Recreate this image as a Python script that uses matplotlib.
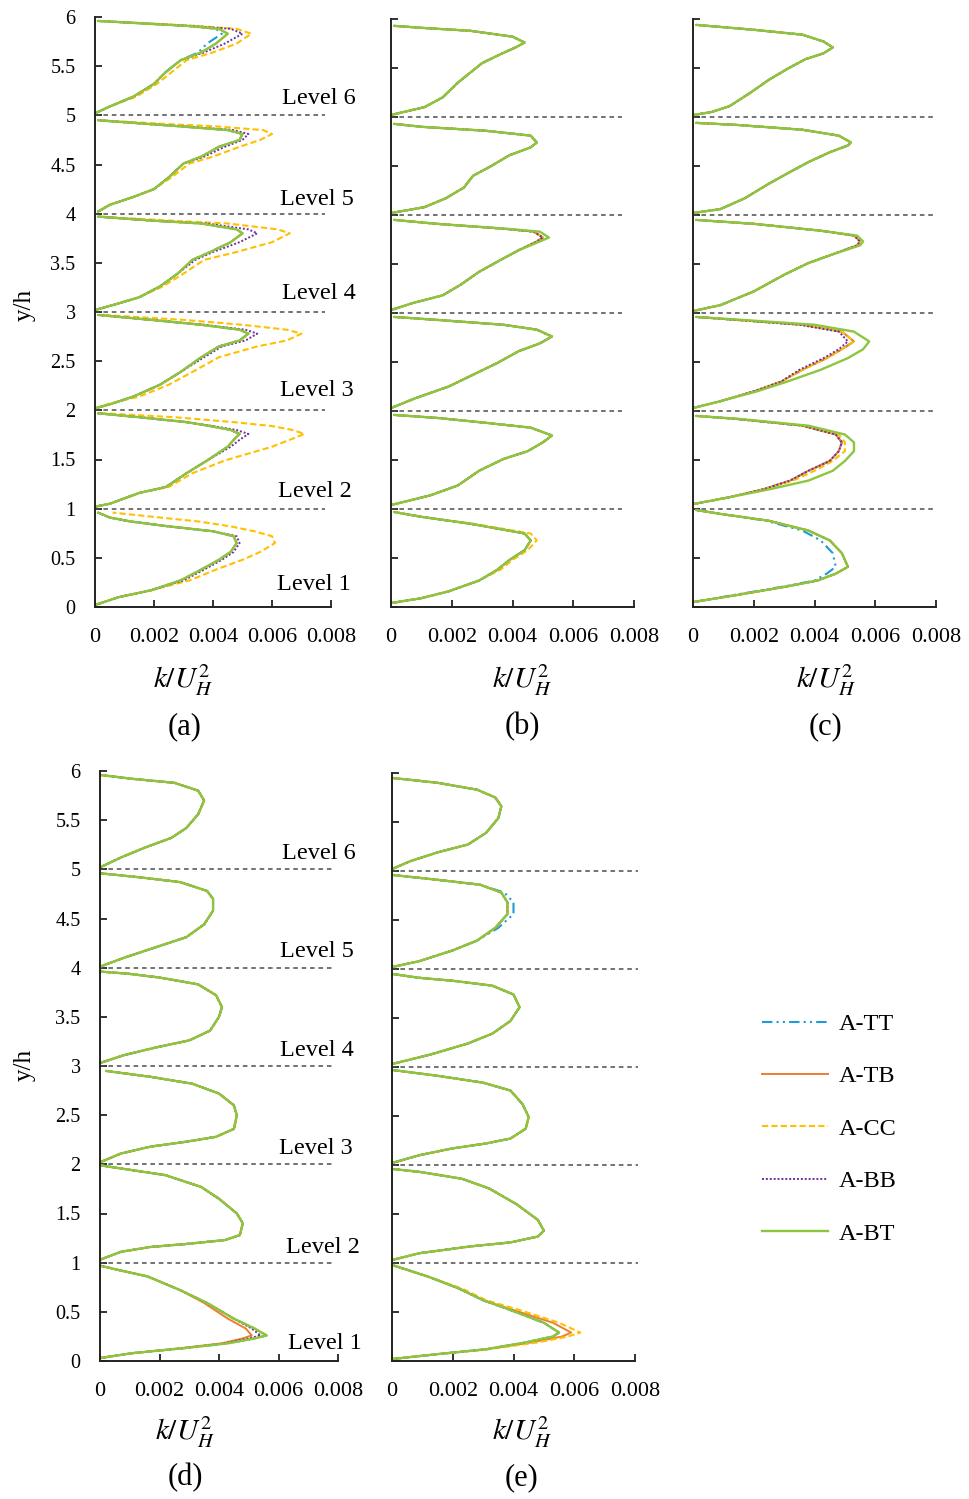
import matplotlib
matplotlib.use("Agg")
import matplotlib.pyplot as plt
from matplotlib.lines import Line2D

plt.rcParams['font.family'] = 'serif'
plt.rcParams['font.serif'] = ['Liberation Serif', 'DejaVu Serif']
plt.rcParams['mathtext.fontset'] = 'stix'

series = ['A-TT', 'A-TB', 'A-CC', 'A-BB', 'A-BT']
panels = ['a', 'b', 'c', 'd', 'e']

xticks = [0, 0.002, 0.004, 0.006, 0.008]
xtick_labels = ['0', '0.002', '0.004', '0.006', '0.008']
yticks = [0, 0.5, 1, 1.5, 2, 2.5, 3, 3.5, 4, 4.5, 5, 5.5, 6]
ytick_labels = ['0', '0.5', '1', '1.5', '2', '2.5', '3', '3.5', '4', '4.5', '5', '5.5', '6']
level_names = ['Level 1', 'Level 2', 'Level 3', 'Level 4', 'Level 5', 'Level 6']

# common k/U_H^2 profile of each level (index 0 = level 1): heights y/h and values
a_y = [[0.02, 0.10, 0.17, 0.27, 0.38, 0.48, 0.56, 0.65, 0.72, 0.77, 0.82, 0.87, 0.91, 0.96],
       [1.02, 1.05, 1.16, 1.22, 1.36, 1.49, 1.63, 1.70, 1.76, 1.80, 1.84, 1.88, 1.93, 1.97],
       [2.02, 2.07, 2.14, 2.26, 2.39, 2.54, 2.65, 2.71, 2.78, 2.82, 2.87, 2.92, 2.97],
       [3.02, 3.07, 3.15, 3.26, 3.39, 3.53, 3.61, 3.71, 3.80, 3.84, 3.90, 3.93, 3.97],
       [4.02, 4.09, 4.17, 4.25, 4.37, 4.51, 4.58, 4.68, 4.75, 4.81, 4.85, 4.89, 4.91, 4.95],
       [5.02, 5.09, 5.19, 5.32, 5.44, 5.56, 5.64, 5.73, 5.83, 5.88, 5.91, 5.94, 5.96]]
a_k = [[0.0000, 0.0008, 0.0019, 0.0029, 0.0036, 0.0042, 0.0046, 0.0048, 0.0047, 0.0040, 0.0025, 0.0012, 0.0005, 0.0001],
       [0.0000, 0.0005, 0.0015, 0.0024, 0.0031, 0.0038, 0.0045, 0.0047, 0.0049, 0.0046, 0.0039, 0.0031, 0.0015, 0.0001],
       [0.0000, 0.0006, 0.0013, 0.0022, 0.0029, 0.0036, 0.0042, 0.0049, 0.0052, 0.0049, 0.0036, 0.0019, 0.0001],
       [0.0000, 0.0006, 0.0015, 0.0022, 0.0028, 0.0033, 0.0039, 0.0046, 0.0050, 0.0048, 0.0036, 0.0019, 0.0001],
       [0.0001, 0.0005, 0.0013, 0.0020, 0.0025, 0.0030, 0.0036, 0.0042, 0.0049, 0.0050, 0.0045, 0.0028, 0.0019, 0.0001],
       [0.0000, 0.0005, 0.0013, 0.0020, 0.0024, 0.0029, 0.0036, 0.0041, 0.0045, 0.0042, 0.0031, 0.0013, 0.0001]]

b_y = [[0.04, 0.09, 0.16, 0.27, 0.38, 0.48, 0.58, 0.68, 0.75, 0.85, 0.92, 0.97],
       [1.04, 1.14, 1.24, 1.39, 1.51, 1.59, 1.68, 1.75, 1.83, 1.88, 1.93, 1.96],
       [2.03, 2.13, 2.25, 2.37, 2.49, 2.61, 2.69, 2.76, 2.83, 2.88, 2.93, 2.96],
       [3.03, 3.10, 3.18, 3.29, 3.42, 3.54, 3.64, 3.73, 3.77, 3.83, 3.86, 3.91, 3.95],
       [4.02, 4.08, 4.17, 4.28, 4.40, 4.50, 4.61, 4.69, 4.74, 4.81, 4.86, 4.90, 4.93],
       [5.02, 5.05, 5.10, 5.20, 5.35, 5.45, 5.55, 5.64, 5.71, 5.76, 5.82, 5.88, 5.91, 5.93]]
b_k = [[0.0000, 0.0010, 0.0019, 0.0029, 0.0035, 0.0039, 0.0044, 0.0046, 0.0044, 0.0026, 0.0010, 0.0001],
       [0.0000, 0.0013, 0.0022, 0.0029, 0.0037, 0.0045, 0.0050, 0.0053, 0.0046, 0.0031, 0.0015, 0.0001],
       [0.0000, 0.0008, 0.0019, 0.0027, 0.0035, 0.0042, 0.0049, 0.0053, 0.0048, 0.0037, 0.0015, 0.0001],
       [0.0000, 0.0007, 0.0017, 0.0023, 0.0029, 0.0036, 0.0042, 0.0048, 0.0050, 0.0047, 0.0037, 0.0015, 0.0001],
       [0.0000, 0.0011, 0.0018, 0.0024, 0.0027, 0.0033, 0.0039, 0.0046, 0.0048, 0.0046, 0.0031, 0.0010, 0.0001],
       [0.0000, 0.0004, 0.0011, 0.0017, 0.0022, 0.0026, 0.0030, 0.0036, 0.0041, 0.0044, 0.0040, 0.0026, 0.0010, 0.0001]]

c_y = [[0.05, 0.12, 0.21, 0.27, 0.34, 0.41, 0.55, 0.68, 0.78, 0.88, 0.95, 0.99],
       [1.05, 1.12, 1.20, 1.29, 1.39, 1.49, 1.59, 1.68, 1.76, 1.85, 1.92, 1.95],
       [2.03, 2.10, 2.20, 2.30, 2.42, 2.54, 2.63, 2.71, 2.81, 2.88, 2.93, 2.96],
       [3.02, 3.08, 3.22, 3.39, 3.51, 3.61, 3.69, 3.73, 3.79, 3.84, 3.91, 3.95],
       [4.02, 4.06, 4.17, 4.32, 4.44, 4.54, 4.64, 4.71, 4.74, 4.81, 4.87, 4.92, 4.94],
       [5.02, 5.05, 5.11, 5.25, 5.38, 5.49, 5.59, 5.65, 5.71, 5.77, 5.84, 5.89, 5.94]]
c_k = [[0.0000, 0.0014, 0.0031, 0.0041, 0.0047, 0.0051, 0.0049, 0.0045, 0.0038, 0.0025, 0.0009, 0.0001],
       [0.0000, 0.0012, 0.0023, 0.0032, 0.0038, 0.0045, 0.0048, 0.0049, 0.0047, 0.0036, 0.0014, 0.0001],
       [0.0000, 0.0009, 0.0020, 0.0029, 0.0036, 0.0044, 0.0049, 0.0053, 0.0049, 0.0036, 0.0014, 0.0001],
       [0.0000, 0.0009, 0.0020, 0.0030, 0.0038, 0.0047, 0.0054, 0.0055, 0.0053, 0.0042, 0.0020, 0.0001],
       [0.0000, 0.0009, 0.0017, 0.0025, 0.0032, 0.0038, 0.0045, 0.0051, 0.0052, 0.0048, 0.0036, 0.0014, 0.0001],
       [0.0000, 0.0006, 0.0012, 0.0019, 0.0025, 0.0031, 0.0037, 0.0043, 0.0046, 0.0043, 0.0036, 0.0020, 0.0001]]

d_y = [[0.03, 0.08, 0.13, 0.18, 0.23, 0.26, 0.33, 0.43, 0.59, 0.72, 0.86, 0.92, 0.97],
       [1.03, 1.11, 1.16, 1.19, 1.23, 1.28, 1.40, 1.50, 1.65, 1.77, 1.89, 1.94, 1.99],
       [2.02, 2.11, 2.18, 2.23, 2.28, 2.36, 2.50, 2.60, 2.72, 2.82, 2.89, 2.95],
       [3.03, 3.11, 3.19, 3.26, 3.36, 3.50, 3.60, 3.72, 3.83, 3.90, 3.94, 3.96],
       [4.01, 4.10, 4.21, 4.31, 4.44, 4.58, 4.70, 4.78, 4.87, 4.92, 4.96],
       [5.02, 5.12, 5.22, 5.32, 5.42, 5.56, 5.70, 5.80, 5.88, 5.92, 5.96]]
d_k = [[0.0000, 0.0011, 0.0028, 0.0043, 0.0052, 0.0056, 0.0052, 0.0045, 0.0036, 0.0027, 0.0016, 0.0007, 0.0000],
       [0.0000, 0.0007, 0.0017, 0.0029, 0.0042, 0.0047, 0.0048, 0.0046, 0.0040, 0.0034, 0.0022, 0.0011, 0.0000],
       [0.0000, 0.0007, 0.0017, 0.0029, 0.0039, 0.0045, 0.0046, 0.0045, 0.0040, 0.0031, 0.0017, 0.0002],
       [0.0000, 0.0008, 0.0019, 0.0030, 0.0037, 0.0040, 0.0041, 0.0039, 0.0033, 0.0020, 0.0009, 0.0000],
       [0.0000, 0.0008, 0.0019, 0.0029, 0.0035, 0.0038, 0.0038, 0.0036, 0.0027, 0.0013, 0.0000],
       [0.0000, 0.0007, 0.0015, 0.0024, 0.0029, 0.0033, 0.0035, 0.0033, 0.0025, 0.0011, 0.0000]]

e_y = [[0.02, 0.07, 0.12, 0.19, 0.25, 0.29, 0.39, 0.52, 0.62, 0.74, 0.86, 0.94, 0.98],
       [1.03, 1.10, 1.17, 1.21, 1.27, 1.33, 1.44, 1.60, 1.76, 1.86, 1.93, 1.96],
       [2.02, 2.10, 2.17, 2.22, 2.27, 2.37, 2.49, 2.62, 2.76, 2.84, 2.91, 2.97],
       [3.03, 3.13, 3.24, 3.34, 3.47, 3.61, 3.74, 3.83, 3.88, 3.91, 3.95],
       [4.02, 4.08, 4.19, 4.29, 4.42, 4.56, 4.68, 4.78, 4.86, 4.91, 4.96],
       [5.02, 5.10, 5.19, 5.27, 5.39, 5.54, 5.66, 5.75, 5.83, 5.90, 5.95]]
e_k = [[0.0000, 0.0015, 0.0031, 0.0044, 0.0053, 0.0055, 0.0050, 0.0039, 0.0030, 0.0022, 0.0012, 0.0004, 0.0000],
       [0.0000, 0.0009, 0.0026, 0.0039, 0.0048, 0.0050, 0.0048, 0.0041, 0.0032, 0.0023, 0.0009, 0.0000],
       [0.0000, 0.0009, 0.0020, 0.0031, 0.0039, 0.0044, 0.0045, 0.0043, 0.0039, 0.0030, 0.0015, 0.0000],
       [0.0000, 0.0013, 0.0025, 0.0033, 0.0039, 0.0042, 0.0040, 0.0033, 0.0020, 0.0009, 0.0000],
       [0.0000, 0.0009, 0.0020, 0.0028, 0.0034, 0.0038, 0.0038, 0.0036, 0.0029, 0.0015, 0.0000],
       [0.0000, 0.0006, 0.0015, 0.0025, 0.0031, 0.0035, 0.0036, 0.0034, 0.0028, 0.0015, 0.0000]]

# cases whose profile departs from the common one, {level: values} on the same heights
a_tt = {6: [0.0000, 0.0005, 0.0013, 0.0020, 0.0024, 0.0029, 0.0035, 0.0038, 0.0043, 0.0041, 0.0031, 0.0013, 0.0001]}
a_cc = {1: [0.0000, 0.0008, 0.0019, 0.0032, 0.0041, 0.0050, 0.0056, 0.0061, 0.0060, 0.0054, 0.0046, 0.0035, 0.0022, 0.0006],
        2: [0.0000, 0.0005, 0.0015, 0.0025, 0.0033, 0.0044, 0.0060, 0.0066, 0.0071, 0.0067, 0.0060, 0.0047, 0.0027, 0.0003],
        3: [0.0000, 0.0005, 0.0015, 0.0025, 0.0033, 0.0042, 0.0055, 0.0065, 0.0070, 0.0065, 0.0050, 0.0030, 0.0003],
        4: [0.0000, 0.0006, 0.0015, 0.0023, 0.0030, 0.0037, 0.0048, 0.0060, 0.0066, 0.0062, 0.0045, 0.0025, 0.0002],
        5: [0.0001, 0.0005, 0.0013, 0.0020, 0.0026, 0.0032, 0.0040, 0.0049, 0.0056, 0.0060, 0.0057, 0.0040, 0.0025, 0.0002],
        6: [0.0000, 0.0005, 0.0014, 0.0021, 0.0026, 0.0031, 0.0040, 0.0048, 0.0053, 0.0048, 0.0034, 0.0015, 0.0001]}
a_bb = {1: [0.0000, 0.0008, 0.0019, 0.0030, 0.0037, 0.0043, 0.0047, 0.0049, 0.0048, 0.0040, 0.0025, 0.0012, 0.0005, 0.0001],
        2: [0.0000, 0.0005, 0.0015, 0.0024, 0.0031, 0.0038, 0.0046, 0.0049, 0.0052, 0.0048, 0.0040, 0.0031, 0.0015, 0.0001],
        3: [0.0000, 0.0006, 0.0013, 0.0022, 0.0029, 0.0037, 0.0043, 0.0051, 0.0055, 0.0051, 0.0037, 0.0019, 0.0001],
        4: [0.0000, 0.0006, 0.0015, 0.0022, 0.0028, 0.0034, 0.0040, 0.0049, 0.0055, 0.0052, 0.0038, 0.0019, 0.0001],
        5: [0.0001, 0.0005, 0.0013, 0.0020, 0.0025, 0.0030, 0.0037, 0.0044, 0.0050, 0.0052, 0.0047, 0.0029, 0.0019, 0.0001],
        6: [0.0000, 0.0005, 0.0013, 0.0020, 0.0024, 0.0029, 0.0037, 0.0044, 0.0050, 0.0046, 0.0032, 0.0013, 0.0001]}
b_cc = {1: [0.0000, 0.0010, 0.0019, 0.0029, 0.0036, 0.0040, 0.0045, 0.0048, 0.0046, 0.0027, 0.0010, 0.0001]}
b_bt = {4: [0.0000, 0.0007, 0.0017, 0.0023, 0.0029, 0.0036, 0.0042, 0.0049, 0.0052, 0.0049, 0.0038, 0.0015, 0.0001]}
c_tt = {1: [0.0000, 0.0013, 0.0030, 0.0040, 0.0044, 0.0047, 0.0046, 0.0042, 0.0036, 0.0024, 0.0009, 0.0001]}
c_cc = {2: [0.0000, 0.0012, 0.0023, 0.0033, 0.0040, 0.0046, 0.0050, 0.0050, 0.0048, 0.0036, 0.0014, 0.0001]}
c_bb = {3: [0.0000, 0.0009, 0.0020, 0.0029, 0.0035, 0.0043, 0.0048, 0.0051, 0.0048, 0.0035, 0.0014, 0.0001]}
c_bt = {2: [0.0000, 0.0012, 0.0025, 0.0038, 0.0046, 0.0050, 0.0053, 0.0053, 0.0050, 0.0038, 0.0015, 0.0001],
        3: [0.0000, 0.0009, 0.0021, 0.0031, 0.0042, 0.0051, 0.0056, 0.0058, 0.0053, 0.0040, 0.0016, 0.0001],
        4: [0.0000, 0.0009, 0.0020, 0.0030, 0.0038, 0.0047, 0.0055, 0.0056, 0.0054, 0.0042, 0.0020, 0.0001]}
d_tb = {1: [0.0000, 0.0011, 0.0027, 0.0041, 0.0048, 0.0051, 0.0049, 0.0043, 0.0035, 0.0027, 0.0016, 0.0007, 0.0000]}
d_bb = {1: [0.0000, 0.0011, 0.0028, 0.0042, 0.0050, 0.0054, 0.0051, 0.0045, 0.0036, 0.0027, 0.0016, 0.0007, 0.0000]}
e_tb = {1: [0.0000, 0.0015, 0.0031, 0.0046, 0.0056, 0.0059, 0.0053, 0.0040, 0.0030, 0.0022, 0.0012, 0.0004, 0.0000]}
e_cc = {1: [0.0000, 0.0015, 0.0032, 0.0048, 0.0058, 0.0062, 0.0055, 0.0042, 0.0031, 0.0023, 0.0012, 0.0004, 0.0000]}
e_tt = {5: [0.0000, 0.0009, 0.0020, 0.0028, 0.0035, 0.0040, 0.0040, 0.0037, 0.0029, 0.0015, 0.0000]}

profiles = {'a': (a_y, a_k), 'b': (b_y, b_k), 'c': (c_y, c_k), 'd': (d_y, d_k), 'e': (e_y, e_k)}
variants = {('a', 'A-TT'): a_tt, ('a', 'A-CC'): a_cc, ('a', 'A-BB'): a_bb,
            ('b', 'A-CC'): b_cc, ('b', 'A-BT'): b_bt,
            ('c', 'A-TT'): c_tt, ('c', 'A-CC'): c_cc, ('c', 'A-BB'): c_bb, ('c', 'A-BT'): c_bt,
            ('d', 'A-TB'): d_tb, ('d', 'A-BB'): d_bb,
            ('e', 'A-TT'): e_tt, ('e', 'A-TB'): e_tb, ('e', 'A-CC'): e_cc}

# level captions on panels (a) and (d)
a_lvl_x = [0.00617, 0.00620, 0.00627, 0.00634, 0.00627, 0.00634]
a_lvl_y = [0.23, 1.17, 2.20, 3.19, 4.14, 5.17]
d_lvl_x = [0.00633, 0.00626, 0.00602, 0.00606, 0.00606, 0.00613]
d_lvl_y = [0.18, 1.15, 2.16, 3.16, 4.16, 5.16]

style = {
    'A-TT': dict(color='#1E9BD7', ls=(0, (5, 2, 1, 2, 1, 2)), lw=1.5),
    'A-TB': dict(color='#ED7D31', ls='-', lw=1.4),
    'A-CC': dict(color='#FFC000', ls=(0, (3, 1.5)), lw=1.5),
    'A-BB': dict(color='#7030A0', ls=(0, (1, 1)), lw=1.4),
    'A-BT': dict(color='#8CC63F', ls='-', lw=1.7),
}

W, H = 969, 1499
fig = plt.figure(figsize=(W / 100, H / 100), dpi=100)

# axes boxes in pixels: left, right, top (y/h = 6), bottom (y/h = 0)
boxes = {'a': (95, 331, 17, 607), 'b': (391, 634, 19, 607), 'c': (693, 936, 19, 607),
         'd': (100, 338, 771, 1361), 'e': (392, 635, 773, 1361)}
dash_end = {'a': 0.0078, 'b': 0.0076, 'c': 0.0080, 'd': 0.0078, 'e': 0.0081}
xlab_pos = {'a': (183, 680), 'b': (522, 680), 'c': (826, 680), 'd': (185, 1432), 'e': (522, 1432)}
tag_pos = {'a': (185, 727), 'b': (522, 727), 'c': (826, 727), 'd': (185, 1478), 'e': (522, 1478)}

for p in panels:
    l, r, t, b = boxes[p]
    ax = fig.add_axes([l / W, 1 - b / H, (r - l) / W, (b - t) / H])
    ax.set_xlim(0, 0.008)
    ax.set_ylim(0, 6)
    ax.spines['top'].set_visible(False)
    ax.spines['right'].set_visible(False)
    for s in ['left', 'bottom']:
        ax.spines[s].set_linewidth(1.4)
        ax.spines[s].set_color('#222222')
    ax.set_xticks(xticks)
    ax.set_xticklabels(xtick_labels, fontsize=16)
    ax.set_yticks(yticks)
    if p in ('a', 'd'):
        ax.set_yticklabels(ytick_labels, fontsize=14.5)
    else:
        ax.set_yticklabels([])
    ax.tick_params(axis='x', direction='in', length=5, width=1.3, pad=15, colors='#222222')
    ax.tick_params(axis='y', direction='in', length=5, width=1.3, pad=14, colors='#222222')
    for lab in ax.get_xticklabels() + ax.get_yticklabels():
        lab.set_color('black')

    ax.hlines([1, 2, 3, 4, 5], 0, dash_end[p], colors='#4d4d4d',
              linestyles=(0, (3, 2.5)), lw=1.1, clip_on=False)

    ys, ks = profiles[p]
    for s in series:
        alt = variants.get((p, s), {})
        for i in range(6):
            k = alt.get(i + 1, ks[i])
            ax.plot(k, ys[i], solid_capstyle='round', solid_joinstyle='round',
                    clip_on=False, **style[s])

    if p in ('a', 'd'):
        lx, ly = (a_lvl_x, a_lvl_y) if p == 'a' else (d_lvl_x, d_lvl_y)
        for i in range(6):
            ax.text(lx[i], ly[i], level_names[i], fontsize=17.5, ha='left', va='center',
                    clip_on=False)
        yl = 305 if p == 'a' else 1065
        fig.text(25 / W, 1 - yl / H, 'y/h', rotation=90, fontsize=18,
                 ha='center', va='center')

    x0, y0 = xlab_pos[p]
    fig.text(x0 / W, 1 - y0 / H, r'$k/U_H^2$', fontsize=21, ha='center', va='center')
    x0, y0 = tag_pos[p]
    fig.text(x0 / W, 1 - y0 / H, '(' + p + ')', fontsize=22, ha='center', va='center')

handles = [Line2D([], [], **style[s]) for s in series]
fig.legend(handles, series, loc='upper left', bbox_to_anchor=(762 / W, 1 - 1013 / H),
           frameon=False, fontsize=17.5, handlelength=2.7, handletextpad=0.45,
           labelspacing=1.25, borderpad=0, borderaxespad=0)

fig.savefig('out.png', dpi=100)
